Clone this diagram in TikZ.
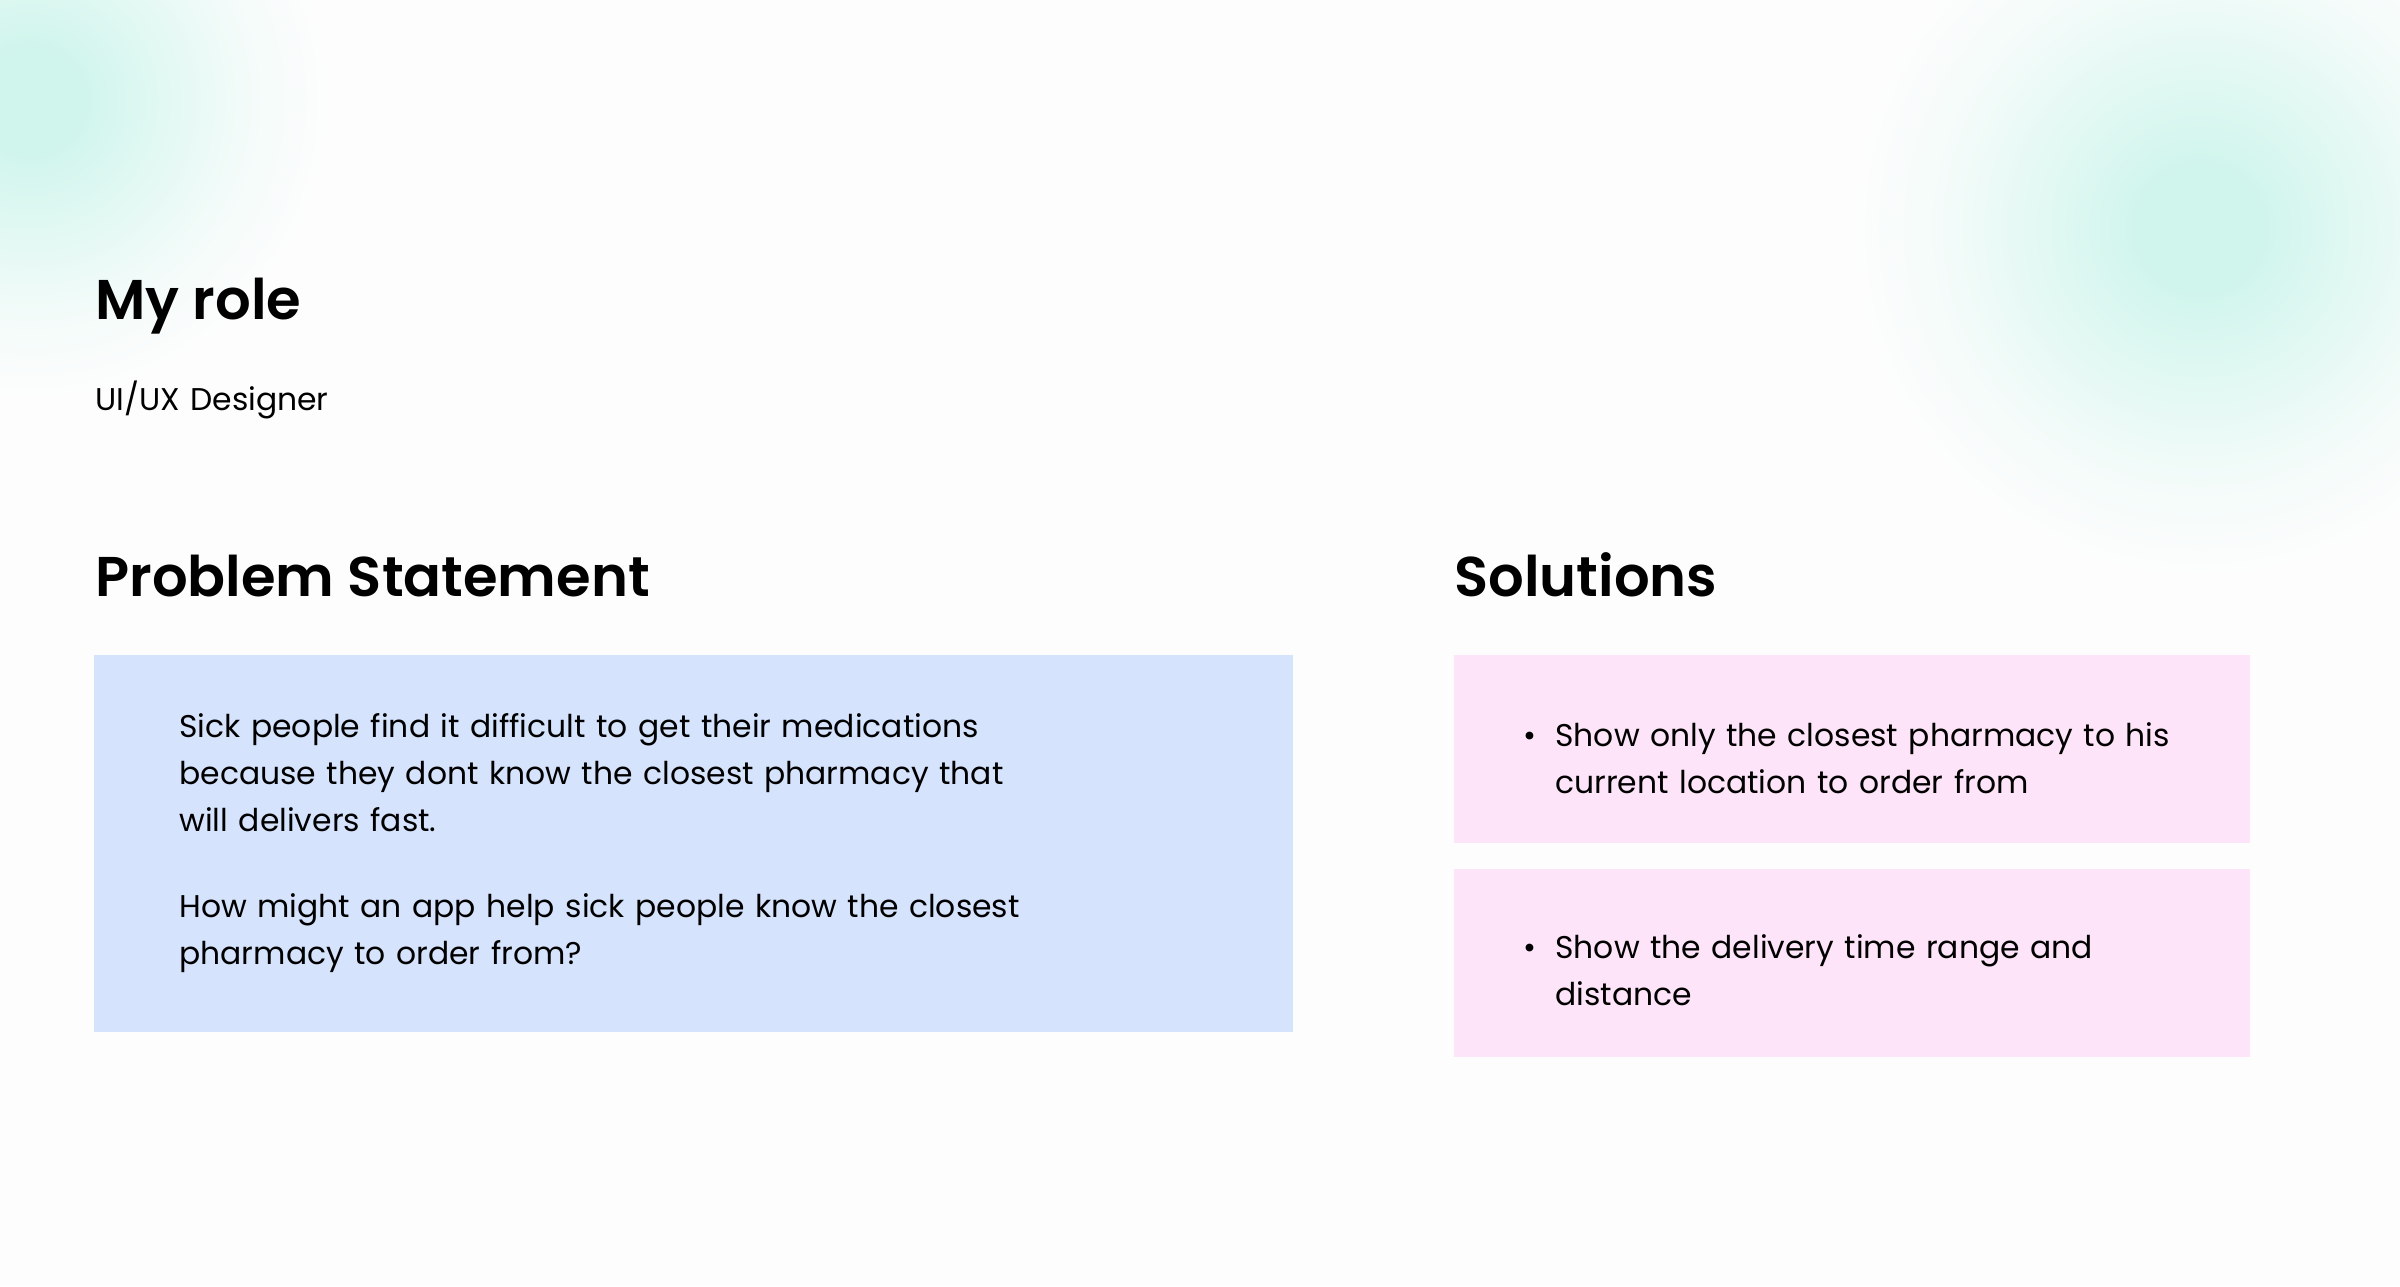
\documentclass[tikz,border=0pt]{standalone}
\usepackage{fontspec}
\setmainfont{Poppins}[BoldFont={Poppins SemiBold}]
\definecolor{pagebg}{HTML}{FDFDFD}
\definecolor{mint}{HTML}{CFF5EC}
\definecolor{probfill}{HTML}{D6E3FD}
\definecolor{solfill}{HTML}{FDE4F8}
\pgfdeclareradialshading{glow}{\pgfpoint{0bp}{0bp}}{color(0bp)=(mint); color(4bp)=(mint); color(11bp)=(mint!60!pagebg); color(18bp)=(mint!22!pagebg); color(25bp)=(pagebg); color(50bp)=(pagebg)}
\begin{document}
\begin{tikzpicture}[x=0.5pt,y=-0.5pt]
		\tikzset{title style/.style={anchor=base west,inner sep=0pt,font=\fontsize{28}{34}\selectfont\bfseries},
			para style/.style={anchor=base west,inner sep=0pt,text width=480pt,align=left,font=\fontsize{15.7}{23.5}\selectfont},
			dot style/.style={anchor=base,inner sep=0pt,font=\fontsize{15.7}{23.5}\selectfont}}
		\fill[pagebg] (0,0) rectangle (2400,1286);
		\useasboundingbox (0,0) rectangle (2400,1286);
		\begin{scope}
		\clip (0,0) rectangle (2400,1286);
		\shade[shading=glow] (30,100) circle (300);
		\shade[shading=glow] (2200,228) circle (350);
		\end{scope}
		% boxes
		\fill[probfill] (94,655) rectangle (1293,1032);
		\foreach \t in {655,869}
		\fill[solfill] (1454,\t) rectangle (2250,\t+188);
		% titles
		\node[title style] (role) at (95,319) {My role};
		\node[para style] (roletxt) at (95,410) {UI/UX Designer};
		\node[title style] (probtitle) at (95,596) {Problem Statement};
		\node[title style] (soltitle) at (1454,596) {Solutions};
		% texts
		\node[para style] (prob) at (179,737) {Sick people find it difficult to get their medications\\because they dont know the closest pharmacy that\\will delivers fast.\\[19.5pt]How might an app help sick people know the closest\\pharmacy to order from?};
		\node[dot style] (dotA) at (1530,746) {\textbullet};
		\node[para style] (solA) at (1555,746) {Show only the closest pharmacy to his\\current location to order from};
		\node[dot style] (dotB) at (1530,958) {\textbullet};
		\node[para style] (solB) at (1555,958) {Show the delivery time range and\\distance};
		
		\end{tikzpicture}
\end{document}
